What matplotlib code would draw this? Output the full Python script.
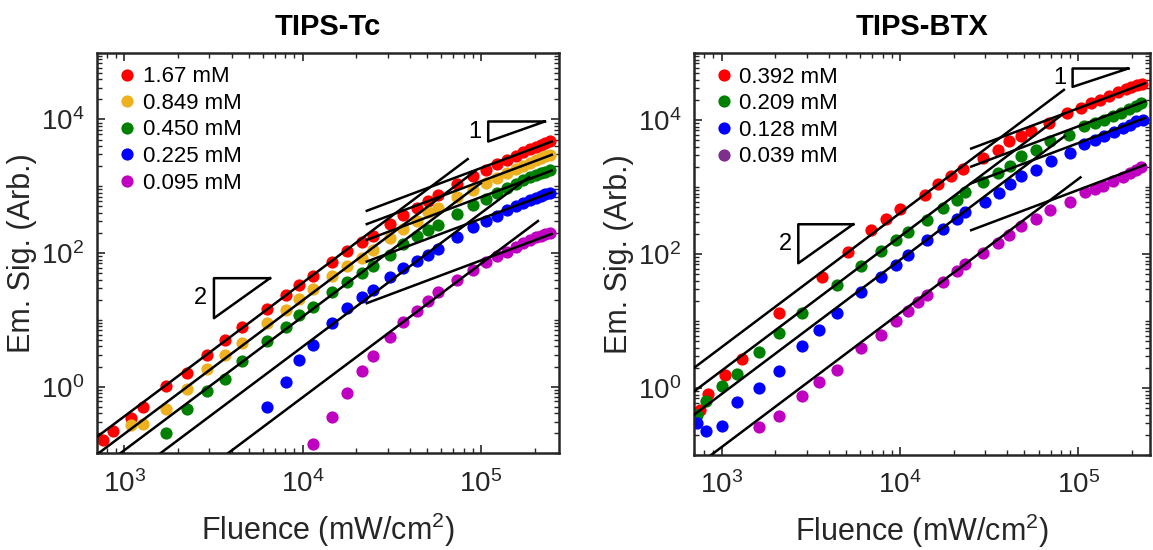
import numpy as np
import matplotlib.pyplot as plt
from matplotlib.lines import Line2D
from matplotlib.ticker import LogLocator, NullFormatter, FixedLocator

plt.rcParams['font.family'] = ['Liberation Sans', 'DejaVu Sans']
plt.rcParams['mathtext.default'] = 'regular'

# ---------------- TIPS-Tc ----------------
tc_fluence = [756, 868, 1085, 1278, 1713, 2236, 2895, 3669, 4589, 6284, 8028, 9579,
              11380, 14540, 17810, 21420, 24700, 30880, 36690, 43590, 50680, 57660,
              73060, 90580, 106700, 123500, 139300, 157200, 172800, 188300, 202600,
              216100, 229500, 243800]
tc_labels = ['1.67 mM', '0.849 mM', '0.450 mM', '0.225 mM', '0.095 mM']
tc_colors = ['#ff0000', '#edb120', '#008000', '#0000ff', '#c000c0']
tc_red = [0.158, 0.219, 0.335, 0.501, 1.02, 1.62, 2.99, 4.95, 7.76, 14.6, 23.7, 33.5,
          45.7, 73.3, 106, 146, 182, 275, 367, 473, 596, 741, 1072, 1413, 1778, 2138,
          2512, 2884, 3236, 3589, 3936, 4217, 4467, 4732]
tc_orange = [0.266, 0.275, 0.457, 0.912, 1.84, 2.99, 4.57, 8.91, 14.1, 20.7, 28.8, 45.7,
             63.1, 84.1, 110, 168, 229, 299, 407, 473, 692, 891, 1122, 1334, 1585, 1820,
             2042, 2239, 2455, 2630, 2818, 2985]
tc_green = [0.204, 0.462, 0.861, 1.30, 2.45, 4.90, 7.94, 11.9, 15.8, 25.7, 36.3, 50.1,
            63.1, 94.4, 136, 178, 224, 266, 389, 531, 653, 794, 933, 1096, 1245, 1380,
            1496, 1585, 1660, 1738]
tc_blue = [0.490, 1.19, 2.51, 4.22, 8.91, 15.0, 21.9, 28.2, 44.2, 59.6, 75.9, 94.4, 117,
           176, 243, 305, 363, 437, 501, 562, 617, 668, 724, 759, 794]
tc_magenta = [0.141, 0.355, 0.813, 1.72, 2.88, 5.62, 9.44, 13.8, 19.5, 25.7, 39.8, 56.2,
              74.1, 89.1, 105, 123, 141, 158, 172, 182, 191, 200]
tc_signal = [tc_red, tc_orange, tc_green, tc_blue, tc_magenta]
# power-law asymptotes: log10 prefactors for slope 2 and slope 1
tc_logk2 = [-6.445, -6.708, -6.952, -7.402, -8.16]
tc_logk1 = [-1.727, -1.926, -2.162, -2.487, -3.110]
tc_end2 = [4.926, 4.97, 5.0, 5.27, 5.32]      # log10 fluence where slope-2 line stops
tc_span1 = (4.36, 5.397)                      # log10 fluence range of slope-1 lines

# ---------------- TIPS-BTX ----------------
btx_labels = ['0.392 mM', '0.209 mM', '0.128 mM', '0.039 mM']
btx_colors = ['#ff0000', '#008000', '#0000ff', '#c000c0']
btx_legend_colors = ['#ff0000', '#008000', '#0000ff', '#7e2f8e']
btx_red_x = [756, 842, 1044, 1294, 2106, 3637, 5132, 6846, 8348, 10000, 13810, 16410,
             19240, 22460, 29080, 35600, 41030, 48110, 54730, 68770, 86750, 103100,
             117800, 133400, 149200, 167600, 185000, 199100, 214200, 229500]
btx_red = [0.464, 0.823, 1.58, 2.74, 13.2, 45.4, 106, 226, 337, 469, 769, 1122, 1477,
           1856, 2710, 3606, 4806, 5707, 6776, 9020, 12710, 15100, 17940, 20100, 23070,
           26160, 29020, 31100, 33290, 34460]
btx_green_x = [724, 817, 1009, 1214, 1627, 2097, 2834, 4415, 6042, 7826, 9456, 11040,
               14110, 17500, 20790, 23150, 29330, 35600, 41390, 48110, 57890, 69360,
               89010, 107600, 124000, 139300, 157100, 175000, 193200, 210600, 226500]
btx_green = [0.400, 0.632, 1.06, 1.64, 3.41, 6.62, 13.2, 34.8, 65.5, 110, 164, 211, 325,
             486, 648, 832, 1174, 1618, 2081, 2870, 3606, 4806, 6043, 8040, 9020, 10120,
             11350, 12710, 14590, 16370, 17940]
btx_blue_x = [724, 817, 1009, 1214, 1627, 2097, 2834, 3514, 4415, 6042, 7826, 9456,
              11040, 14110, 17500, 20790, 23150, 29960, 36060, 41390, 48110, 57890,
              70870, 89780, 107600, 124000, 139300, 158500, 178800, 194900, 212400, 231500]
btx_blue = [0.300, 0.225, 0.268, 0.618, 1.00, 1.81, 4.19, 7.26, 13.2, 27.1, 45.4, 69.3,
            97.7, 164, 236, 337, 419, 590, 813, 1109, 1443, 1773, 2473, 3214, 4385, 4977,
            5707, 6546, 7600, 8518, 9550, 10120]
btx_magenta_x = [1627, 2097, 2834, 3514, 4415, 6042, 7826, 9456, 11040, 12560, 14110,
                 17500, 20790, 23150, 29330, 35600, 41030, 48110, 58390, 69360, 89780,
                 109000, 124000, 138100, 157100, 178800, 194900, 210600, 226500]
btx_magenta = [0.262, 0.378, 0.751, 1.22, 1.88, 3.95, 6.25, 9.89, 13.9, 19.0, 24.7, 37.8,
               55.1, 71.7, 103, 146, 194, 259, 333, 459, 597, 832, 933, 1047, 1216, 1410,
               1618, 1815, 1990]
btx_x = [btx_red_x, btx_green_x, btx_blue_x, btx_magenta_x]
btx_signal = [btx_red, btx_green, btx_blue, btx_magenta]
btx_logk2 = [-5.39, -5.741, -6.09, -6.882]
btx_logk1 = [-0.826, -1.095, -1.345, -2.044]
btx_end2 = [4.92, 4.92, 4.925, 5.013]
btx_span1 = (4.40, 5.375)

# slope triangles: (x_left, x_right, y_bottom, y_top, label)
tc_tri = [(3184, 6565, 10.6, 42.1, '2'), (109900, 228400, 4680, 9333, '1')]
btx_tri = [(2693, 5470, 72.9, 278, '2'), (93100, 191000, 31250, 58750, '1')]

fig = plt.figure(figsize=(11.53, 5.5), dpi=100)
ax1 = fig.add_axes([0.0841, 0.1755, 0.4007, 0.7287])
ax2 = fig.add_axes([0.6019, 0.1727, 0.3955, 0.7309])

dark = '#262626'


def draw_panel(ax, xs, ys, colors, logk2, logk1, end2, span1, xlim, tri):
    for x, y, c in zip(xs, ys, colors):
        ax.plot(x, y, 'o', color=c, markersize=8.8, markeredgewidth=0, zorder=2)
    for k2, k1, e2 in zip(logk2, logk1, end2):
        f2 = np.logspace(np.log10(xlim[0]), e2, 60)
        ax.plot(f2, 10 ** k2 * f2 ** 2, color='k', lw=1.8, zorder=3)
        f1 = np.logspace(span1[0], span1[1], 60)
        ax.plot(f1, 10 ** k1 * f1, color='k', lw=1.8, zorder=3)
    for xa, xb, yb, yt, lab in tri:
        ax.plot([xb, xa, xa, xb], [yt, yt, yb, yt], color='k', lw=1.8, zorder=3)
        ax.text(xa / 1.09, np.sqrt(yb * yt), lab, ha='right', va='center',
                fontsize=17, color='k')
    ax.set_xscale('log')
    ax.set_yscale('log')
    ax.set_xlim(*xlim)
    ax.set_ylim(0.1, 1e5)
    ax.xaxis.set_major_locator(FixedLocator([1e3, 1e4, 1e5]))
    ax.yaxis.set_major_locator(FixedLocator([1e0, 1e2, 1e4]))
    ax.xaxis.set_minor_locator(LogLocator(base=10, subs=np.arange(1, 10), numticks=30))
    ax.yaxis.set_minor_locator(LogLocator(base=10, subs=np.arange(1, 10), numticks=30))
    ax.xaxis.set_minor_formatter(NullFormatter())
    ax.yaxis.set_minor_formatter(NullFormatter())
    ax.tick_params(which='both', direction='in', top=True, right=True,
                   colors=dark, labelsize=20)
    ax.tick_params(which='major', length=6, width=1.2)
    ax.tick_params(which='minor', length=3.5, width=1)
    ax.tick_params(axis='x', pad=12)
    ax.tick_params(axis='y', pad=9)
    for s in ax.spines.values():
        s.set_linewidth(1.8)
        s.set_color(dark)
    ax.set_xlabel('Fluence (mW/cm$^2$)', fontsize=22, color=dark, labelpad=9)
    ax.set_ylabel('Em. Sig. (Arb.)', fontsize=22, color=dark, labelpad=3)


draw_panel(ax1, [tc_fluence[-len(s):] for s in tc_signal], tc_signal, tc_colors,
           tc_logk2, tc_logk1, tc_end2, tc_span1, (703, 274000), tc_tri)
draw_panel(ax2, btx_x, btx_signal, btx_colors,
           btx_logk2, btx_logk1, btx_end2, btx_span1, (700, 253000), btx_tri)

ax1.set_title('TIPS-Tc', fontsize=21, fontweight='bold', pad=13)
ax2.set_title('TIPS-BTX', fontsize=21, fontweight='bold', pad=13)


def add_legend(ax, labels, colors):
    handles = [Line2D([], [], marker='o', linestyle='none', color=c,
                      markersize=8.8, markeredgewidth=0) for c in colors]
    ax.legend(handles, labels, loc='upper left', bbox_to_anchor=(0.046, 0.966),
              frameon=False, fontsize=16, handlelength=0.8, handletextpad=0.3,
              borderpad=0, borderaxespad=0, labelspacing=0.25)


add_legend(ax1, tc_labels, tc_colors)
add_legend(ax2, btx_labels, btx_legend_colors)

fig.savefig('out.png', dpi=100)
